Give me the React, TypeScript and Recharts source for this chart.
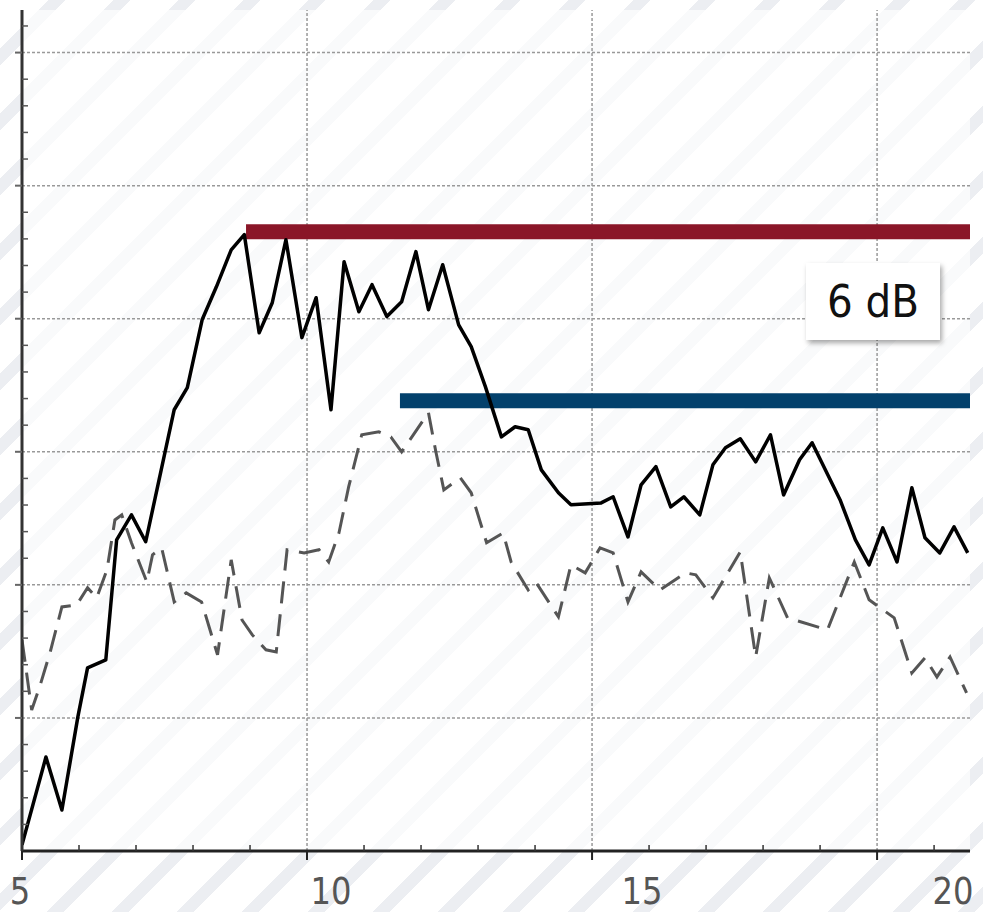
import React from 'react';
import { LineChart, Line, XAxis, YAxis, ReferenceLine, ReferenceArea } from 'recharts';

// frequency (x) and level (y)
const solidTrace: [number, number][] = [
  [5.0, 0.23], [5.42, 3.53], [5.7, 1.54], [5.98, 5.04], [6.15, 6.88], [6.47, 7.18],
  [6.66, 11.69], [6.92, 12.63], [7.17, 11.62], [7.53, 15.19], [7.67, 16.58], [7.9, 17.41],
  [8.16, 19.96], [8.41, 21.2], [8.67, 22.59], [8.9, 23.16], [9.16, 19.47], [9.39, 20.6],
  [9.63, 22.97], [9.91, 19.29], [10.16, 20.79], [10.42, 16.58], [10.65, 22.14], [10.91, 20.26],
  [11.14, 21.28], [11.4, 20.08], [11.66, 20.64], [11.91, 22.52], [12.13, 20.34], [12.38, 22.03],
  [12.66, 19.77], [12.88, 18.95], [13.13, 17.44], [13.41, 15.56], [13.65, 15.94], [13.88, 15.83],
  [14.11, 14.32], [14.41, 13.46], [14.63, 13.01], [15.16, 13.08], [15.37, 13.31], [15.63, 11.8],
  [15.86, 13.76], [16.12, 14.44], [16.38, 12.93], [16.61, 13.31], [16.89, 12.63], [17.12, 14.51],
  [17.34, 15.15], [17.6, 15.49], [17.87, 14.62], [18.13, 15.64], [18.36, 13.38], [18.64, 14.7],
  [18.86, 15.34], [19.35, 13.2], [19.62, 11.69], [19.86, 10.75], [20.1, 12.14], [20.35, 10.86],
  [20.61, 13.65], [20.84, 11.77], [21.1, 11.2], [21.35, 12.18], [21.59, 11.2],
];

const dashedTrace: [number, number][] = [
  [5.0, 7.93], [5.17, 5.3], [5.31, 6.17], [5.49, 7.44], [5.7, 9.17], [5.96, 9.25],
  [6.15, 9.89], [6.31, 9.51], [6.49, 10.56], [6.63, 12.44], [6.75, 12.63], [6.92, 11.58],
  [7.19, 10.11], [7.29, 11.13], [7.45, 11.39], [7.67, 9.36], [7.88, 9.7], [8.15, 9.36],
  [8.43, 7.37], [8.67, 10.94], [8.86, 8.68], [9.04, 8.12], [9.28, 7.56], [9.46, 7.48],
  [9.65, 11.32], [9.95, 11.2], [10.21, 11.32], [10.38, 10.86], [10.56, 11.95], [10.73, 13.68],
  [10.96, 15.64], [11.26, 15.75], [11.47, 15.56], [11.66, 15.0], [12.13, 16.47], [12.26, 15.0],
  [12.4, 13.57], [12.69, 14.02], [12.88, 13.46], [13.15, 11.58], [13.44, 11.95], [13.58, 10.86],
  [13.88, 9.81], [14.02, 10.08], [14.41, 8.8], [14.63, 10.75], [14.88, 10.45], [15.14, 11.39],
  [15.37, 11.2], [15.63, 9.36], [15.86, 10.49], [16.19, 9.81], [16.64, 10.45], [16.82, 10.38],
  [17.12, 9.51], [17.6, 11.24], [17.87, 7.29], [18.11, 10.26], [18.43, 8.76], [19.13, 8.31],
  [19.6, 10.86], [19.86, 9.44], [20.3, 8.76], [20.61, 6.69], [20.84, 7.26], [21.05, 6.54],
  [21.28, 7.29], [21.57, 5.94],
];

// peak levels: [start frequency, level]
const peakLevel: [number, number] = [8.93, 23.27];
const dashedPeakLevel: [number, number] = [11.63, 16.92];

const xMax = 21.63;
const yMax = 31.6;
const xTicks = [5, 6, 7, 8, 9, 10, 11, 12, 13, 14, 15, 16, 17, 18, 19, 20, 21];
const xLabels = [5, 10, 15, 20];
const yTicks = Array.from({ length: 32 }, (_, i) => i);
const xGrid = [10, 15, 20];
const yGrid = [5, 10, 15, 20, 25, 30];

const toPoints = (trace: [number, number][]) => trace.map(([x, y]) => ({ x, y }));
const levelLine = ([from, level]: [number, number]) => [
  { x: from, y: level },
  { x: xMax, y: level },
];

const FONT = "'DejaVu Sans Condensed', 'Liberation Sans Narrow', 'DejaVu Sans', sans-serif";

const XTick = (props: any) => {
  const { x, y, payload } = props;
  const v = payload.value;
  const isLabel = xLabels.includes(v);
  if (!isLabel) {
    return <line x1={x} x2={x} y1={y - 6} y2={y} stroke="#333" strokeWidth={1.5} />;
  }
  const label = String(v);
  // labels sit a little right of their ticks in the original
  return (
    <g>
      <line x1={x} x2={x} y1={y} y2={y + 9} stroke="#222" strokeWidth={2} />
      <text
        x={x - 2 + (v - 5) * 5.2}
        y={y + 53}
        textAnchor="middle"
        fontSize={37}
        fill="#555"
        fontFamily={FONT}
        textLength={label.length * 20.5}
        lengthAdjust="spacingAndGlyphs"
      >
        {label}
      </text>
    </g>
  );
};

const YTick = (props: any) => {
  const { x, y, payload } = props;
  const v = payload.value;
  if (v === 0) return <g />;
  if (v % 5 === 0) {
    return <line x1={x - 7} x2={x} y1={y} y2={y} stroke="#666" strokeWidth={2} />;
  }
  return <line x1={x} x2={x + 6} y1={y} y2={y} stroke="#555" strokeWidth={1.5} />;
};

export default function App() {
  return (
    <div
      style={{
        position: 'relative',
        width: 983,
        height: 912,
        overflow: 'hidden',
        background:
          'repeating-linear-gradient(135deg, #ffffff 0px, #ffffff 34px, #eceef2 34px, #eceef2 46px)',
      }}
    >
      <style>{'body { margin: 0; }'}</style>
      <LineChart
        width={983}
        height={912}
        margin={{ top: 10, right: 13, bottom: 0, left: 0 }}
      >
        <XAxis
          type="number"
          dataKey="x"
          domain={[5, xMax]}
          ticks={xTicks}
          interval={0}
          allowDataOverflow
          tickSize={0}
          tickMargin={0}
          tickLine={false}
          tick={<XTick />}
          axisLine={{ stroke: '#222', strokeWidth: 3 }}
          height={61}
        />
        <YAxis
          type="number"
          dataKey="y"
          domain={[0, yMax]}
          ticks={yTicks}
          interval={0}
          allowDataOverflow
          tickSize={0}
          tickMargin={0}
          tickLine={false}
          tick={<YTick />}
          axisLine={{ stroke: '#333', strokeWidth: 3 }}
          width={22}
        />
        <ReferenceArea x1={5} x2={xMax} y1={0} y2={yMax} fill="#fff" fillOpacity={0.7} stroke="none" />
        {yGrid.map((v) => (
          <ReferenceLine key={`h${v}`} y={v} stroke="#999" strokeWidth={1.5} strokeDasharray="3 2" />
        ))}
        {xGrid.map((v) => (
          <ReferenceLine key={`v${v}`} x={v} stroke="#999" strokeWidth={1.5} strokeDasharray="3 2" />
        ))}
        <Line
          data={levelLine(peakLevel)}
          dataKey="y"
          type="linear"
          stroke="#8a1628"
          strokeWidth={15}
          strokeLinecap="butt"
          dot={false}
          isAnimationActive={false}
        />
        <Line
          data={levelLine(dashedPeakLevel)}
          dataKey="y"
          type="linear"
          stroke="#03416c"
          strokeWidth={15}
          strokeLinecap="butt"
          dot={false}
          isAnimationActive={false}
        />
        <Line
          data={toPoints(dashedTrace)}
          dataKey="y"
          type="linear"
          stroke="#555"
          strokeWidth={3}
          strokeDasharray="22 11"
          dot={false}
          isAnimationActive={false}
        />
        <Line
          data={toPoints(solidTrace)}
          dataKey="y"
          type="linear"
          stroke="#000"
          strokeWidth={3.5}
          strokeLinejoin="round"
          dot={false}
          isAnimationActive={false}
        />
      </LineChart>
      <div
        style={{
          position: 'absolute',
          left: 806,
          top: 263,
          width: 134,
          height: 77,
          background: '#fff',
          boxShadow: '2px 3px 5px rgba(0,0,0,0.35)',
          display: 'flex',
          alignItems: 'center',
          justifyContent: 'center',
          fontFamily: FONT,
          fontSize: 45,
          color: '#111',
        }}
      >
        6 dB
      </div>
    </div>
  );
}
